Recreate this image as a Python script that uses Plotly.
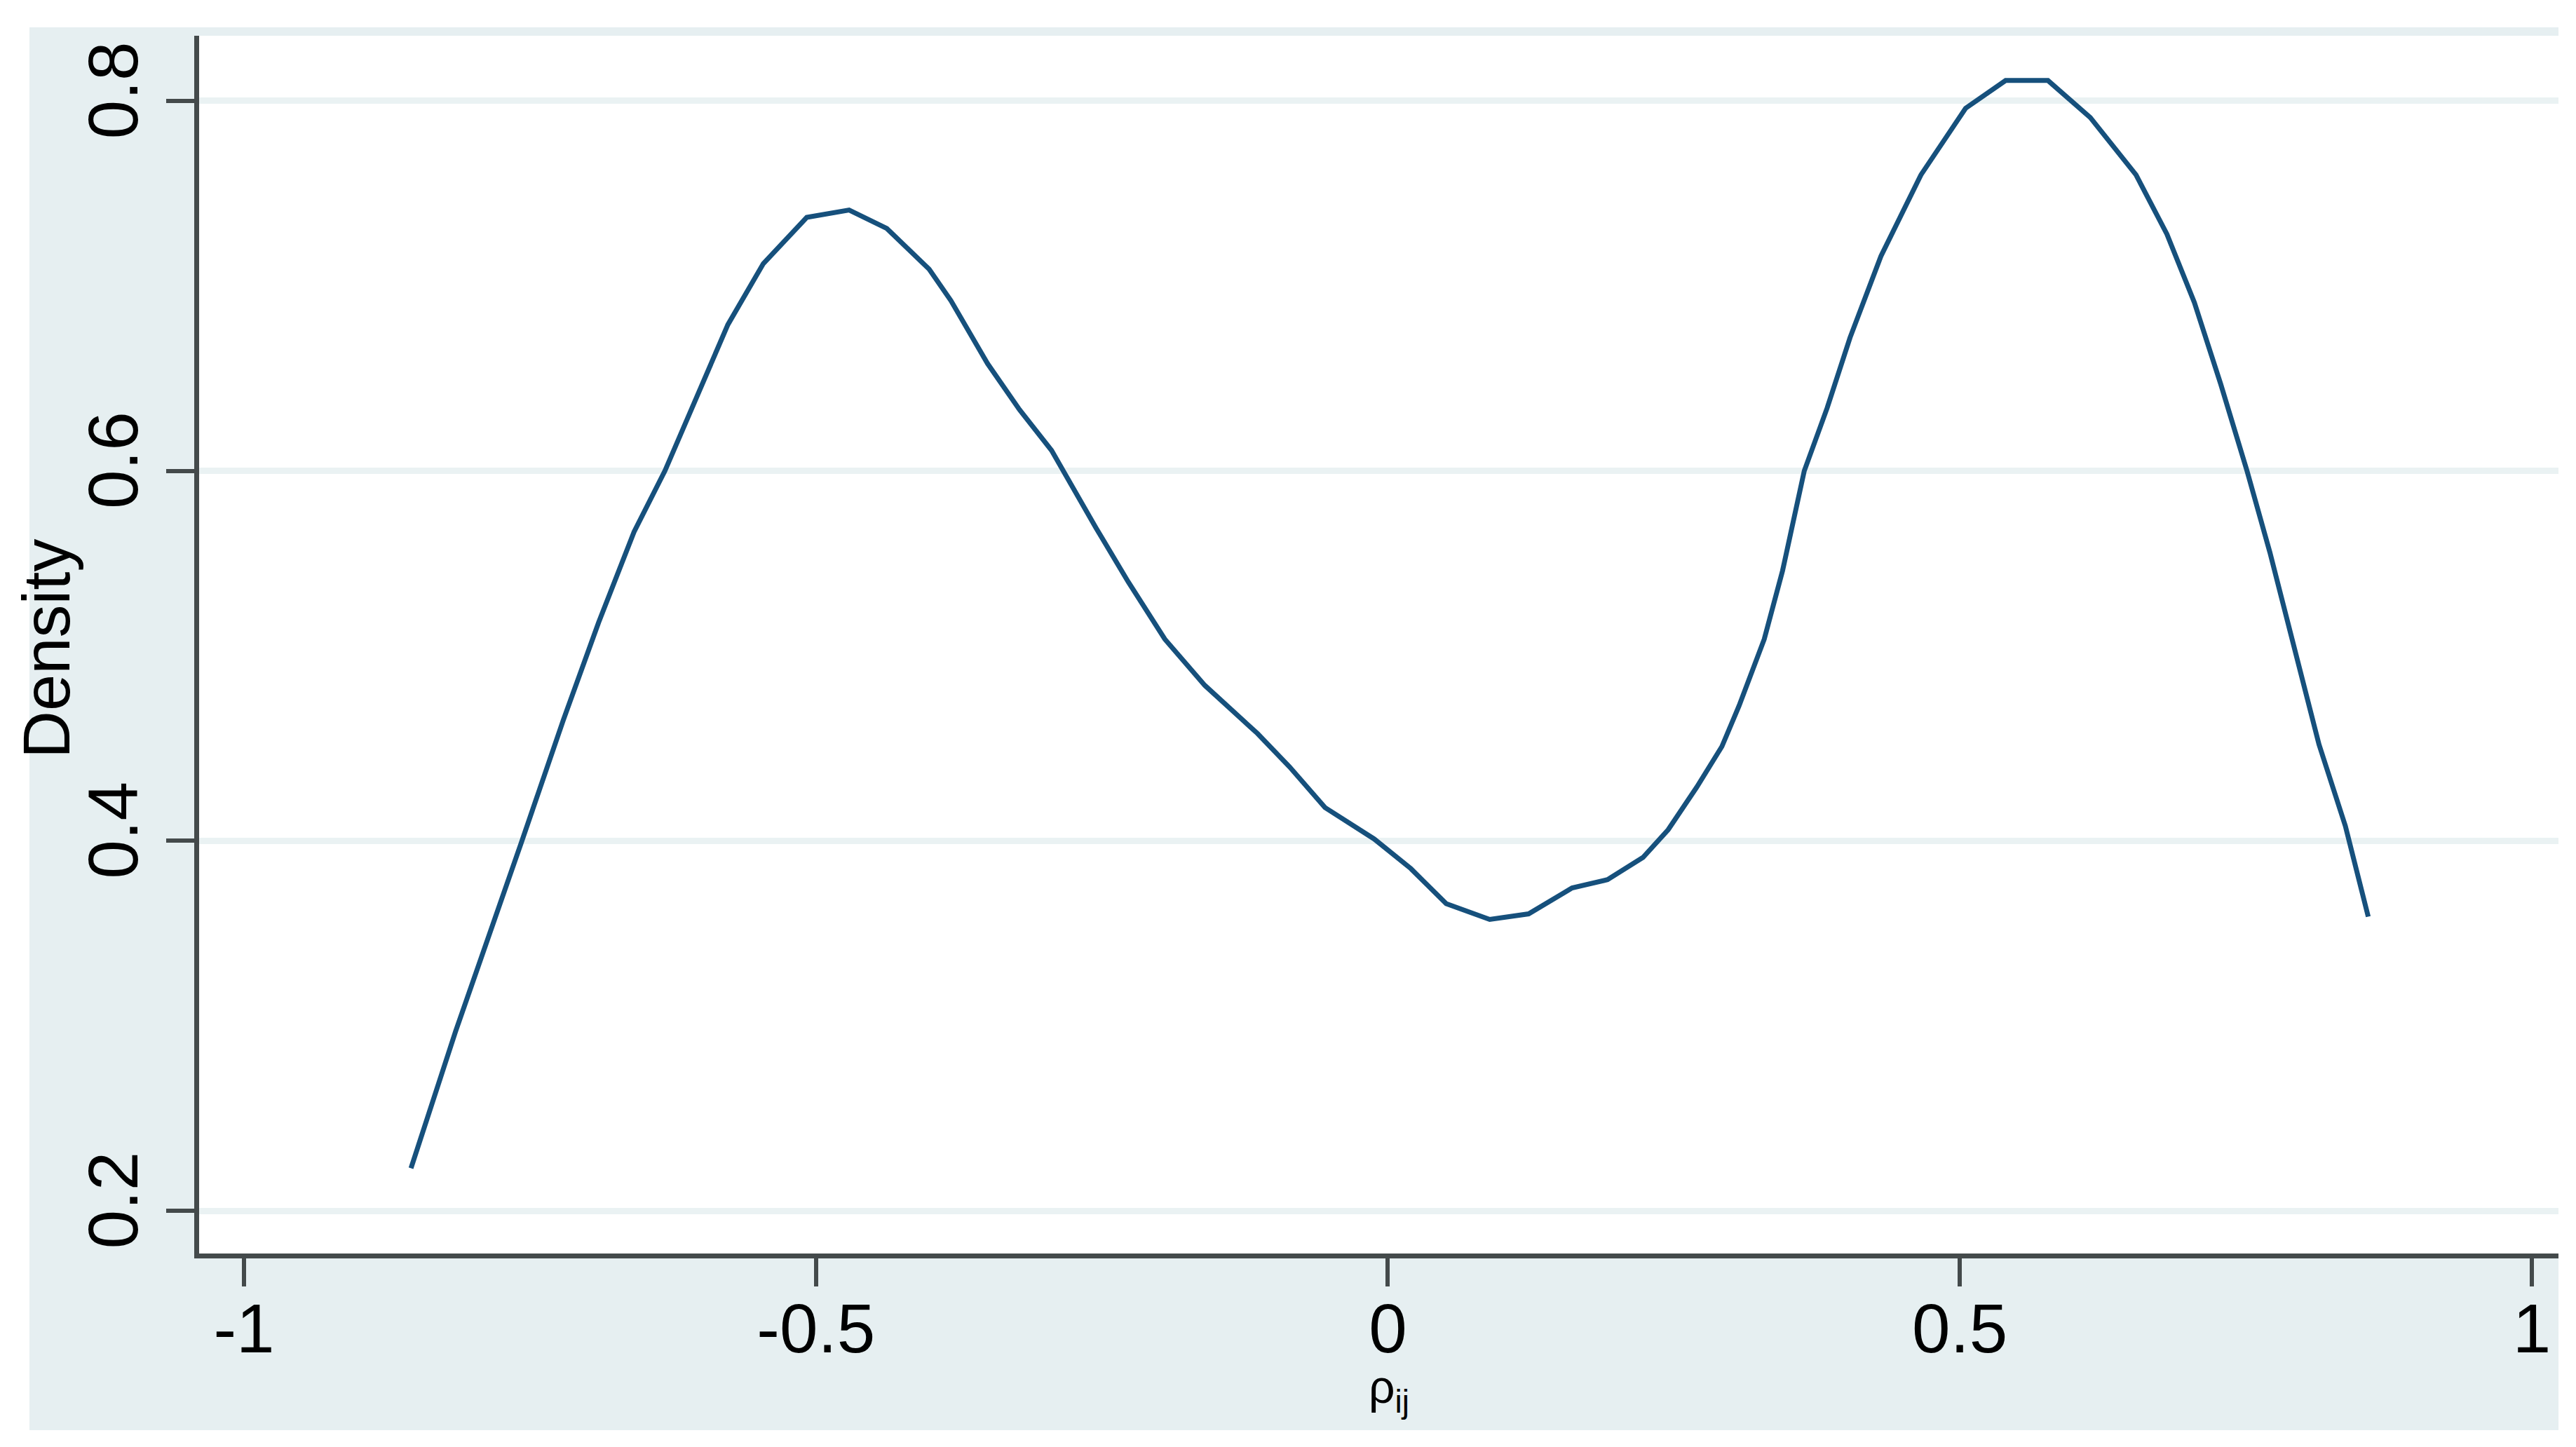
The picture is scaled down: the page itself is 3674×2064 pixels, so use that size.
import plotly.graph_objects as go

# Kernel density estimate of rho_ij
rho = [-0.854, -0.815, -0.757, -0.721, -0.690, -0.659, -0.632, -0.605, -0.577, -0.546,
       -0.508, -0.471, -0.438, -0.401, -0.382, -0.350, -0.322, -0.294, -0.283, -0.255,
       -0.227, -0.195, -0.160, -0.114, -0.086, -0.055, -0.012, 0.020, 0.051, 0.089,
       0.123, 0.161, 0.192, 0.223, 0.245, 0.270, 0.292, 0.307, 0.329, 0.345,
       0.364, 0.384, 0.404, 0.431, 0.466, 0.505, 0.540, 0.577, 0.614, 0.654,
       0.681, 0.705, 0.728, 0.751, 0.771, 0.794, 0.814, 0.837, 0.857]
density = [0.223, 0.297, 0.400, 0.465, 0.518, 0.567, 0.600, 0.638, 0.679, 0.712,
           0.737, 0.741, 0.731, 0.709, 0.692, 0.658, 0.633, 0.611, 0.599, 0.569,
           0.540, 0.509, 0.484, 0.458, 0.440, 0.418, 0.401, 0.385, 0.366, 0.3575,
           0.3605, 0.3745, 0.379, 0.391, 0.406, 0.429, 0.451, 0.473, 0.509, 0.546,
           0.600, 0.634, 0.672, 0.716, 0.760, 0.796, 0.811, 0.811, 0.791, 0.760,
           0.728, 0.691, 0.647, 0.600, 0.556, 0.499, 0.452, 0.408, 0.359]

x_tickvals = [-1, -0.5, 0, 0.5, 1]
x_ticktext = ["-1", "-0.5", "0", "0.5", "1"]
y_tickvals = [0.2, 0.4, 0.6, 0.8]
y_ticktext = ["0.2", "0.4", "0.6", "0.8"]

W, H = 3674, 2064
L, R, T, B = 276, 33, 43, 284
pw, ph = W - L - R, H - T - B

BG = "#e6eff1"
AXC = "#444a4b"
FONT = "Arial, Liberation Sans, sans-serif"

fig = go.Figure()
fig.add_trace(go.Scatter(x=rho, y=density, mode="lines",
                         line=dict(color="#16507c", width=7),
                         showlegend=False, hoverinfo="skip"))

def px_x(p):
    return (p - L) / pw

def px_y(p):
    return (H - B - p) / ph

shapes = [
    dict(type="rect", xref="paper", yref="paper", layer="below",
         x0=px_x(34), x1=px_x(3641), y0=px_y(2032), y1=px_y(31),
         fillcolor=BG, line=dict(width=0)),
    dict(type="rect", xref="paper", yref="paper", layer="below",
         x0=0, x1=1, y0=0, y1=1, fillcolor="white", line=dict(width=0)),
]

fig.update_layout(
    template="none",
    width=W, height=H,
    margin=dict(l=L, r=R, t=T, b=B, autoexpand=False),
    paper_bgcolor="white", plot_bgcolor="white",
    shapes=shapes,
    font=dict(family=FONT, color="black"),
    xaxis=dict(range=[-1.0392, 1.0233], tickvals=x_tickvals, ticktext=x_ticktext,
               automargin=False,
               showgrid=False, zeroline=False, showline=True, linecolor=AXC, linewidth=7,
               ticks="outside", ticklen=40, tickwidth=6, tickcolor=AXC,
               tickfont=dict(size=98, family=FONT, color="black"),
               ticklabelstandoff=-24),
    yaxis=dict(range=[0.1769, 0.8352], tickvals=y_tickvals, ticktext=y_ticktext,
               automargin=False,
               showgrid=True, gridcolor="#eaf2f3", gridwidth=9,
               zeroline=False, showline=True, linecolor=AXC, linewidth=7,
               ticks="outside", ticklen=40, tickwidth=6, tickcolor=AXC,
               tickangle=-90,
               tickfont=dict(size=100, family=FONT, color="black"),
               ticklabelstandoff=1),
    annotations=[
        dict(text="Density", textangle=-90, xref="paper", yref="paper",
             x=px_x(58), y=px_y(917), xanchor="center", yanchor="middle",
             showarrow=False, font=dict(size=94, family=FONT, color="black")),
        dict(text="ρ<sub>ij</sub>", xref="paper", yref="paper",
             x=px_x(1973), y=px_y(1975), xanchor="center", yanchor="middle",
             showarrow=False, font=dict(size=66, family=FONT, color="black")),
    ],
)

fig.write_html("out.html")
